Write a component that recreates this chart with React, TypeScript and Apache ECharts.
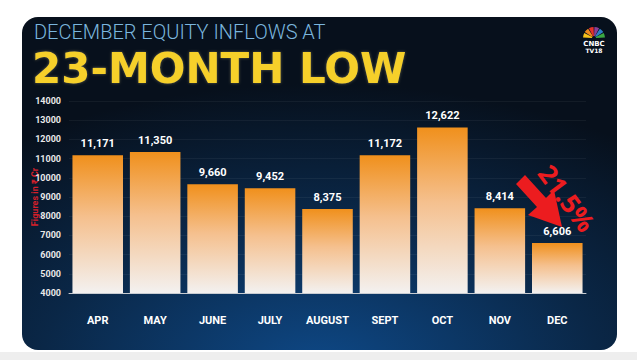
import React, { useEffect, useRef } from "react";
import * as echarts from "echarts";

const categories = ["APR", "MAY", "JUNE", "JULY", "AUGUST", "SEPT", "OCT", "NOV", "DEC"];
const inflows = [11171, 11350, 9660, 9452, 8375, 11172, 12622, 8414, 6606];
const yTicks = { min: 4000, max: 14000, interval: 1000 };
const titleLine1 = "DECEMBER EQUITY INFLOWS AT";
const titleLine2 = "23-MONTH LOW";
const dropLabel = "21.5%";
const axisName = "Figures in ₹ Cr";

export default function App() {
  const ref = useRef<HTMLDivElement>(null);
  useEffect(() => {
    if (!ref.current) return;
    const chart = echarts.init(ref.current, undefined, { renderer: "svg" });
    const peacock = ["#f7c21b", "#f08a1d", "#e5322a", "#8a3f97", "#2f7fc6", "#3aa843"];
    const feathers = peacock.map((c, i) => ({
      type: "sector",
      shape: {
        cx: 594,
        cy: 38,
        r: 11,
        r0: 2,
        startAngle: Math.PI + (i * Math.PI) / 6 + 0.04,
        endAngle: Math.PI + ((i + 1) * Math.PI) / 6 - 0.04,
      },
      style: { fill: c },
      z: 5,
    }));
    chart.setOption({
      animation: false,
      backgroundColor: "#ffffff",
      graphic: [
        { type: "rect", shape: { x: 0, y: 352, width: 637, height: 8 }, style: { fill: "#eeeeee" }, z: -10 },
        {
          type: "rect",
          shape: { x: 22, y: 17, width: 595, height: 333, r: 16 },
          style: {
            fill: {
              type: "radial",
              x: 0.5,
              y: 1.05,
              r: 0.85,
              colorStops: [
                { offset: 0, color: "#0e4886" },
                { offset: 0.55, color: "#0a2747" },
                { offset: 1, color: "#07101c" },
              ],
            },
          },
          z: -9,
        },
        {
          type: "text",
          x: 34,
          y: 32,
          style: {
            text: titleLine1,
            fill: "#7bb6de",
            font: "300 20px Roboto",
            lineHeight: 20,
            verticalAlign: "middle",
          },
          z: 5,
        },
        {
          type: "text",
          x: 32,
          y: 68,
          style: {
            text: titleLine2,
            fill: "#f6d02c",
            font: "bold 42px 'DejaVu Sans'",
            lineHeight: 34,
            verticalAlign: "middle",
            textShadowColor: "rgba(255,240,150,0.35)",
            textShadowBlur: 3,
          },
          z: 5,
        },
        ...feathers,
        {
          type: "text",
          x: 594,
          y: 44,
          style: { text: "CNBC", fill: "#ffffff", font: "bold 7px 'DejaVu Sans'", align: "center", verticalAlign: "middle" },
          z: 5,
        },
        {
          type: "text",
          x: 594,
          y: 50,
          style: { text: "TV18", fill: "#ffffff", font: "bold 6px 'DejaVu Sans'", align: "center", verticalAlign: "middle" },
          z: 5,
        },
        {
          type: "polygon",
          shape: {
            points: [
              [516, 184],
              [525, 175],
              [546, 198],
              [554, 190],
              [562, 227],
              [528, 215],
              [537, 207],
            ],
          },
          style: { fill: "#ec1c1f" },
          z: 6,
        },
        {
          type: "text",
          x: 567,
          y: 198,
          rotation: -0.93,
          style: {
            text: dropLabel,
            fill: "#ec1c1f",
            font: "bold 26px 'Open Sans'",
            align: "center",
            verticalAlign: "middle",
          },
          z: 6,
        },
      ],
      grid: { left: 69, right: 51, top: 101, bottom: 67 },
      xAxis: {
        type: "category",
        data: categories,
        axisLine: { show: true, lineStyle: { color: "#c8ccd2", width: 1 } },
        axisTick: { show: false },
        axisLabel: { color: "#ffffff", fontSize: 11, fontWeight: "bold", margin: 22, fontFamily: "Roboto" },
      },
      yAxis: {
        type: "value",
        min: yTicks.min,
        max: yTicks.max,
        interval: yTicks.interval,
        name: axisName,
        nameLocation: "middle",
        nameGap: 30,
        nameMoveOverlap: false,
        nameTextStyle: { color: "#d4202a", fontSize: 9, fontWeight: "bold", fontFamily: "Roboto" },
        axisLine: { show: false },
        axisTick: { show: false },
        splitLine: { show: true, lineStyle: { color: "rgba(255,255,255,0.05)" } },
        axisLabel: {
          color: "#e8e8e8",
          fontSize: 9,
          fontWeight: "bold",
          margin: 8,
          fontFamily: "Roboto",
          formatter: (v: number) => String(v),
        },
      },
      series: [
        {
          type: "bar",
          data: inflows,
          barWidth: "88%",
          itemStyle: {
            color: {
              type: "linear",
              x: 0,
              y: 0,
              x2: 0,
              y2: 1,
              colorStops: [
                { offset: 0, color: "#f0901c" },
                { offset: 0.45, color: "#f5c08e" },
                { offset: 1, color: "#f3f1f0" },
              ],
            },
          },
          label: {
            show: true,
            position: "top",
            distance: 6,
            color: "#ffffff",
            fontSize: 11,
            fontWeight: "bold",
            fontFamily: "Roboto",
            formatter: (p: any) => Number(p.value).toLocaleString("en-US"),
          },
        },
      ],
    });
    return () => chart.dispose();
  }, []);
  return <div ref={ref} style={{ position: "fixed", left: 0, top: 0, width: 637, height: 360 }} />;
}
